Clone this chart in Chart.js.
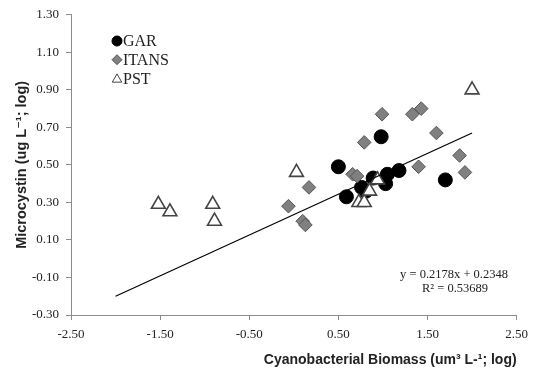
<!DOCTYPE html>
<html>
<head>
<meta charset="utf-8">
<script src="https://cdn.jsdelivr.net/npm/chart.js@4.4.0/dist/chart.umd.min.js"></script>
<style>
  body { margin: 0; background: #fff; }
</style>
</head>
<body>
<canvas id="scatter_chart" width="535" height="375"></canvas>
<script>
//values (x = cyanobacterial biomass, y = microcystin, both log)
var garX = [0.50, 0.59, 0.76, 0.81, 0.89, 0.98, 1.03, 1.05, 1.18, 1.70];
var garY = [0.49, 0.33, 0.38, 0.36, 0.43, 0.65, 0.40, 0.45, 0.47, 0.42];

var itansX = [-0.06, 0.10, 0.13, 0.17, 0.66, 0.71, 0.79, 0.99, 1.33, 1.40, 1.43, 1.60, 1.86, 1.92];
var itansY = [0.28, 0.20, 0.18, 0.38, 0.45, 0.44, 0.62, 0.77, 0.77, 0.49, 0.80, 0.67, 0.55, 0.46];

var pstX = [-1.52, -1.39, -0.91, -0.89, 0.03, 0.73, 0.79, 0.85, 0.94, 2.00];
var pstY = [0.29, 0.25, 0.29, 0.20, 0.46, 0.30, 0.30, 0.36, 0.42, 0.90];

//end points of the linear trend line
var trendX = [-2.00, 2.00];
var trendY = [-0.20, 0.67];

//tick labels of both axes
var xTicks = [-2.5, -1.5, -0.5, 0.5, 1.5, 2.5];
var yTicks = [-0.3, -0.1, 0.1, 0.3, 0.5, 0.7, 0.9, 1.1, 1.3];

var seriesNames = ['GAR', 'ITANS', 'PST'];
var equationLines = ['y = 0.2178x + 0.2348', 'R\u00b2 = 0.53689'];

var serif = "'Liberation Serif', 'Times New Roman', serif";
var sans = "'Liberation Sans', Arial, 'DejaVu Sans', sans-serif";
var axisGray = '#8c8c8c';
var textColor = '#222';

//turn two arrays into {x, y} points
function toPoints(xs, ys)
{
    return xs.map(function(x, i){ return {x: x, y: ys[i]}; });
}

//draws the legend in the top left corner and the trend equation
var extrasPlugin = {
    id: 'extras',
    afterDraw: function(chart)
    {
        var ctx = chart.ctx;
        ctx.save();
        ctx.font = '16px ' + serif;
        ctx.textBaseline = 'middle';
        ctx.textAlign = 'left';
        for (var i = 0; i < seriesNames.length; i++)
        {
            var ds = chart.data.datasets[i];
            var y = 41 + i * 18.7;
            ctx.fillStyle = ds.backgroundColor;
            ctx.strokeStyle = ds.borderColor;
            ctx.lineWidth = 1;
            Chart.helpers.drawPoint(ctx, {
                pointStyle: ds.pointStyle,
                radius: ds.pointStyle === 'triangle' ? 5.5 : 5,
                rotation: 0,
                borderWidth: 1
            }, 117, y + (ds.pointStyle === 'triangle' ? 1 : 0));
            ctx.fillStyle = textColor;
            ctx.fillText(seriesNames[i], 123, y + 1);
        }

        //regression equation, bottom right
        ctx.font = '12.5px ' + serif;
        ctx.textAlign = 'center';
        ctx.fillText(equationLines[0], 454, 275);
        ctx.fillText(equationLines[1], 455, 289);
        ctx.restore();
    }
};

var chartData = {
    datasets: [
        {
            label: seriesNames[0],
            data: toPoints(garX, garY),
            pointStyle: 'circle',
            pointRadius: 7,
            backgroundColor: '#000',
            borderColor: '#000',
            borderWidth: 1,
            order: 3
        },
        {
            label: seriesNames[1],
            data: toPoints(itansX, itansY),
            pointStyle: 'rectRot',
            pointRadius: 6.8,
            backgroundColor: '#808080',
            borderColor: '#555',
            borderWidth: 1,
            order: 2
        },
        {
            label: seriesNames[2],
            data: toPoints(pstX, pstY),
            pointStyle: 'triangle',
            pointRadius: 8,
            backgroundColor: '#fff',
            borderColor: '#444',
            borderWidth: 1.6,
            order: 1
        },
        {
            label: 'trend',
            data: toPoints(trendX, trendY),
            showLine: true,
            pointRadius: 0,
            borderColor: '#000',
            borderWidth: 1.2,
            backgroundColor: '#000',
            order: 0
        }
    ]
};

var scatterChart = new Chart(document.getElementById('scatter_chart'), {
    type: 'scatter',
    data: chartData,
    plugins: [extrasPlugin],
    options: {
        responsive: false,
        animation: false,
        devicePixelRatio: 1,
        layout: { padding: { top: 12, right: 13, left: 0, bottom: 0 } },
        plugins: {
            legend: { display: false },
            tooltip: { enabled: false }
        },
        scales: {
            x: {
                type: 'linear',
                min: -2.5,
                max: 2.5,
                afterBuildTicks: function(scale){
                    scale.ticks = xTicks.map(function(v){ return {value: v}; });
                },
                afterFit: function(scale){ scale.height = 60; },
                ticks: {
                    callback: function(v){ return v.toFixed(2); },
                    font: { family: serif, size: 13 },
                    color: textColor,
                    padding: 7,
                    maxRotation: 0,
                    autoSkip: false
                },
                grid: { drawOnChartArea: false, tickLength: 5, color: axisGray },
                border: { color: axisGray },
                title: {
                    display: true,
                    text: 'Cyanobacterial Biomass (um\u00b3 L-\u00b9; log)',
                    align: 'end',
                    font: { family: sans, size: 14, weight: 'bold' },
                    color: textColor,
                    padding: { top: 0, bottom: 6 }
                }
            },
            y: {
                type: 'linear',
                min: -0.3,
                max: 1.3,
                afterBuildTicks: function(scale){
                    scale.ticks = yTicks.map(function(v){ return {value: v}; });
                },
                afterFit: function(scale){ scale.width = 71; },
                ticks: {
                    callback: function(v){ return v.toFixed(2); },
                    font: { family: serif, size: 13 },
                    color: textColor,
                    padding: 7,
                    autoSkip: false
                },
                grid: { drawOnChartArea: false, tickLength: 5, color: axisGray },
                border: { color: axisGray },
                title: {
                    display: true,
                    text: 'Microcystin (ug L\u207b\u00b9; log)',
                    font: { family: sans, size: 14.5, weight: 'bold' },
                    color: textColor,
                    padding: { top: 13, bottom: 0 }
                }
            }
        }
    }
});
</script>
</body>
</html>
